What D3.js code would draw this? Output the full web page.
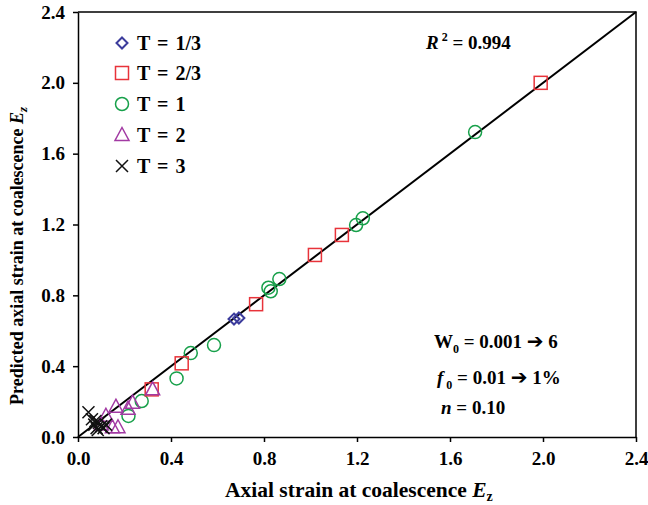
<!DOCTYPE html>
<html>
<head>
<meta charset="utf-8">
<script src="https://cdn.jsdelivr.net/npm/d3@7"></script>
<style>
  body { margin: 0; background: #fff; }
  text { font-family: "Liberation Serif", "Times New Roman", serif; font-weight: bold; }
</style>
</head>
<body>
<div id="chart"></div>
<script>
// Tamaño del lienzo
const width = 648;
const height = 505;
const margin = {top: 12, right: 12, bottom: 68, left: 78};

const seriesNames = ["T = 1/3", "T = 2/3", "T = 1", "T = 2", "T = 3"];
const t13 = [[0.671, 0.666], [0.692, 0.672]];
const t23 = [[1.99, 2.0], [1.135, 1.141], [1.019, 1.028], [0.766, 0.750], [0.446, 0.416], [0.317, 0.269]];
const t1 = [[1.708, 1.722], [1.225, 1.235], [1.196, 1.197], [0.866, 0.892], [0.819, 0.843],
            [0.829, 0.823], [0.585, 0.519], [0.485, 0.474], [0.424, 0.331], [0.274, 0.203], [0.217, 0.119]];
const t2 = [[0.163, 0.171], [0.235, 0.194], [0.215, 0.160], [0.321, 0.269], [0.120, 0.120],
            [0.148, 0.055], [0.172, 0.055], [0.100, 0.070]];
const t3 = [[0.045, 0.140], [0.060, 0.100], [0.070, 0.070], [0.080, 0.050], [0.090, 0.080],
            [0.100, 0.060], [0.110, 0.050], [0.120, 0.070], [0.085, 0.040], [0.075, 0.090]];
const tickValues = [0, 0.4, 0.8, 1.2, 1.6, 2.0, 2.4];

const colors = ["#3c3c9c", "#e8333a", "#17a04a", "#a23aa3", "#111111"];
const symbols = ["diamond", "square", "circle", "triangle", "cross"];

const svg = d3.select("#chart").append("svg")
    .attr("width", width)
    .attr("height", height);

const x = d3.scaleLinear().domain([0, 2.4]).range([margin.left, width - margin.right]);
const y = d3.scaleLinear().domain([0, 2.4]).range([height - margin.bottom, margin.top]);

// Ejes
const xAxis = svg.append("g")
    .attr("transform", "translate(0," + (height - margin.bottom) + ")")
    .call(d3.axisBottom(x).tickValues(tickValues).tickFormat(d3.format(".1f"))
        .tickSize(5).tickSizeOuter(0).tickPadding(5));
const yAxis = svg.append("g")
    .attr("transform", "translate(" + margin.left + ",0)")
    .call(d3.axisLeft(y).tickValues(tickValues).tickFormat(d3.format(".1f"))
        .tickSize(5).tickSizeOuter(0).tickPadding(8));

[xAxis, yAxis].forEach(function (ax) {
    ax.select(".domain").attr("stroke", "#000").attr("stroke-width", 1.5);
    ax.selectAll(".tick line").attr("stroke", "#000").attr("stroke-width", 1.5);
    ax.selectAll(".tick text")
        .attr("fill", "#000")
        .style("font-size", "19px")
        .style("font-family", "Liberation Serif")
        .style("font-weight", "bold");
});
xAxis.selectAll(".tick text").attr("dy", "0.95em");

// Marco superior y derecho
svg.append("path")
    .attr("d", "M" + x(0) + "," + y(2.4) + "H" + x(2.4) + "V" + y(0))
    .attr("fill", "none")
    .attr("stroke", "#000")
    .attr("stroke-width", 1.5);

// Línea 1:1
svg.append("line")
    .attr("x1", x(0)).attr("y1", y(0))
    .attr("x2", x(2.4)).attr("y2", y(2.4))
    .attr("stroke", "#000")
    .attr("stroke-width", 2);

// Dibujar marcadores
function marker(g, type, color) {
    if (type === "diamond") {
        g.append("path").attr("d", "M0,-5.5L5.5,0L0,5.5L-5.5,0Z")
            .attr("fill", "none").attr("stroke", color).attr("stroke-width", 2);
    } else if (type === "square") {
        g.append("rect").attr("x", -6.5).attr("y", -6.5).attr("width", 13).attr("height", 13)
            .attr("fill", "none").attr("stroke", color).attr("stroke-width", 1.5);
    } else if (type === "circle") {
        g.append("circle").attr("r", 6.5)
            .attr("fill", "none").attr("stroke", color).attr("stroke-width", 1.5);
    } else if (type === "triangle") {
        g.append("path").attr("d", "M0,-7.5L7,5.5L-7,5.5Z")
            .attr("fill", "none").attr("stroke", color).attr("stroke-width", 1.5);
    } else {
        g.append("path").attr("d", "M-6,-6L6,6M-6,6L6,-6")
            .attr("fill", "none").attr("stroke", color).attr("stroke-width", 1.5);
    }
}

const allSeries = [t13, t23, t1, t2, t3];
// orden de dibujo: los triángulos y cruces encima
[2, 1, 0, 3, 4].forEach(function (i) {
    svg.append("g").selectAll("g")
        .data(allSeries[i])
        .enter()
        .append("g")
        .attr("transform", d => "translate(" + x(d[0]) + "," + y(d[1]) + ")")
        .each(function () { marker(d3.select(this), symbols[i], colors[i]); });
});

// Leyenda
const legendY = [43, 73, 104, 135, 166];
seriesNames.forEach(function (name, i) {
    const g = svg.append("g").attr("transform", "translate(122," + legendY[i] + ")");
    marker(g, symbols[i], colors[i]);
    g.append("text")
        .attr("x", 15)
        .attr("y", 7)
        .style("font-size", "20px")
        .style("word-spacing", "2px")
        .text(name);
});

// R^2
const r2 = svg.append("text").attr("x", 426).attr("y", 49).style("font-size", "19px");
r2.append("tspan").style("font-style", "italic").text("R");
r2.append("tspan").attr("dy", -8).style("font-size", "12px").text(" 2");
r2.append("tspan").attr("dy", 8).text(" = 0.994");

// Parámetros
const p1 = svg.append("text").attr("x", 434).attr("y", 348).style("font-size", "19px");
p1.append("tspan").text("W");
p1.append("tspan").attr("dy", 5).style("font-size", "12px").text("0");
p1.append("tspan").attr("dy", -5).text(" = 0.001 ");
p1.append("tspan").style("font-family", "DejaVu Sans").style("font-size", "20px").text("\u2794");
p1.append("tspan").text(" 6");

const p2 = svg.append("text").attr("x", 437).attr("y", 384).style("font-size", "19px");
p2.append("tspan").style("font-style", "italic").text("f");
p2.append("tspan").attr("dy", 5).style("font-size", "12px").text(" 0");
p2.append("tspan").attr("dy", -5).text(" = 0.01 ");
p2.append("tspan").style("font-family", "DejaVu Sans").style("font-size", "20px").text("\u2794");
p2.append("tspan").text(" 1%");

const p3 = svg.append("text").attr("x", 441).attr("y", 414).style("font-size", "19px");
p3.append("tspan").style("font-style", "italic").text("n");
p3.append("tspan").text(" = 0.10");

// Títulos de ejes
const xt = svg.append("text")
    .attr("x", 225)
    .attr("y", 497)
    .style("font-size", "21.5px");
xt.append("tspan").text("Axial strain at coalescence ");
xt.append("tspan").style("font-style", "italic").text("E");
xt.append("tspan").attr("dy", 4).style("font-size", "14px").text("z");

const yt = svg.append("text")
    .attr("transform", "translate(23,405) rotate(-90)")
    .style("font-size", "18px");
yt.append("tspan").text("Predicted axial strain at coalescence ");
yt.append("tspan").style("font-style", "italic").text("E");
yt.append("tspan").attr("dy", 4).style("font-size", "13px").style("font-style", "italic").text("z");
</script>
</body>
</html>
